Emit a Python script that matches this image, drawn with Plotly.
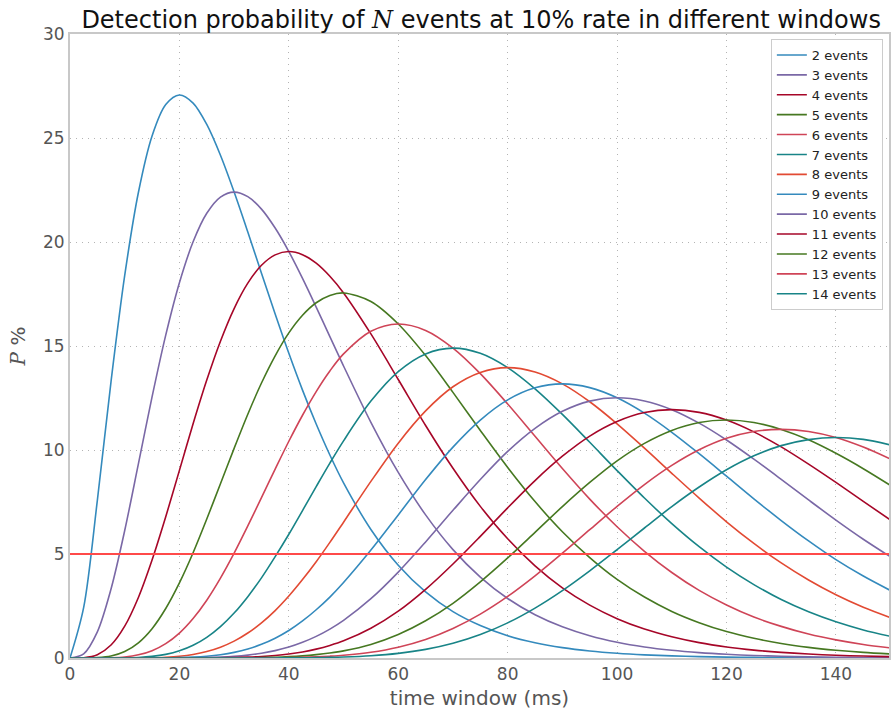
import plotly.graph_objects as go

# time window in ms (finer steps on the steep early part)
t_ms = [0, 2.5, 5, 7.5, 10, 12.5, 15, 17.5, 20, 22.5, 25, 27.5, 30, 32.5, 35, 37.5, 40, 42.5, 45, 47.5, 50,
        55, 60, 65, 70, 75, 80, 85, 90, 95, 100, 105, 110, 115, 120, 125, 130, 135, 140, 145, 150]

# detection probability (%) of exactly N events
p2 = [0, 2.43, 7.58, 13.29, 18.39, 22.38, 25.10, 26.61, 27.07, 26.68, 25.65, 24.17, 22.40, 20.48, 18.50, 16.54,
      14.65, 12.88, 11.25, 9.76, 8.42,
      6.18, 4.46, 3.18, 2.23, 1.56, 1.07, 0.735, 0.500, 0.338, 0.227, 0.152, 0.101, 0.067, 0.044, 0.029,
      0.019, 0.0125, 0.008, 0.0053, 0.0034]
p3 = [0, 0.203, 1.26, 3.32, 6.13, 9.33, 12.55, 15.52, 18.04, 20.01, 21.38, 22.16, 22.40, 22.18, 21.58, 20.67,
      19.54, 18.25, 16.87, 15.45, 14.04,
      11.33, 8.92, 6.88, 5.21, 3.89, 2.86, 2.08, 1.50, 1.07, 0.757, 0.531, 0.371, 0.257, 0.177, 0.121,
      0.083, 0.056, 0.038, 0.026, 0.017]
p4 = [0, 0.0127, 0.158, 0.623, 1.53, 2.91, 4.71, 6.79, 9.02, 11.26, 13.36, 15.23, 16.80, 18.02, 18.88, 19.38,
      19.54, 19.39, 18.98, 18.35, 17.55,
      15.58, 13.39, 11.18, 9.12, 7.29, 5.73, 4.43, 3.37, 2.54, 1.89, 1.39, 1.02, 0.738, 0.531, 0.379,
      0.269, 0.190, 0.133, 0.093, 0.065]
p5 = [0, 0.0006, 0.016, 0.093, 0.31, 0.729, 1.41, 2.38, 3.61, 5.06, 6.68, 8.38, 10.08, 11.72, 13.22, 14.53,
      15.63, 16.48, 17.08, 17.43, 17.55,
      17.14, 16.06, 14.54, 12.77, 10.94, 9.16, 7.52, 6.07, 4.83, 3.78, 2.93, 2.24, 1.70, 1.27, 0.948,
      0.699, 0.512, 0.373, 0.269, 0.194]
p6 = [0, 0, 0.0013, 0.0117, 0.05, 0.152, 0.353, 0.693, 1.20, 1.90, 2.78, 3.84, 5.04, 6.35, 7.71, 9.08,
      10.42, 11.67, 12.81, 13.80, 14.62,
      15.71, 16.06, 15.75, 14.90, 13.67, 12.21, 10.66, 9.11, 7.64, 6.31, 5.13, 4.11, 3.25, 2.55, 1.97,
      1.52, 1.15, 0.870, 0.651, 0.484]
p7 = [0, 0, 0, 0.0013, 0.007, 0.027, 0.076, 0.173, 0.344, 0.611, 0.994, 1.51, 2.16, 2.95, 3.85, 4.87,
      5.95, 7.09, 8.24, 9.37, 10.44,
      12.35, 13.77, 14.62, 14.90, 14.65, 13.96, 12.94, 11.71, 10.37, 9.01, 7.69, 6.46, 5.35, 4.37, 3.53,
      2.81, 2.22, 1.74, 1.35, 1.04]
p8 = [0, 0, 0, 0, 0.001, 0.0042, 0.014, 0.038, 0.086, 0.172, 0.311, 0.519, 0.81, 1.20, 1.69, 2.28,
      2.98, 3.77, 4.63, 5.56, 6.53,
      8.49, 10.33, 11.88, 13.04, 13.73, 13.96, 13.75, 13.18, 12.32, 11.26, 10.09, 8.88, 7.69, 6.55, 5.51,
      4.57, 3.75, 3.04, 2.44, 1.94]
p9 = [0, 0, 0, 0, 0, 0.0006, 0.002, 0.0074, 0.019, 0.043, 0.086, 0.158, 0.27, 0.432, 0.656, 0.950,
      1.32, 1.78, 2.32, 2.93, 3.63,
      5.19, 6.88, 8.58, 10.14, 11.44, 12.41, 12.99, 13.18, 13.00, 12.51, 11.77, 10.85, 9.82, 8.74, 7.65,
      6.61, 5.63, 4.73, 3.94, 3.24]
p10 = [0, 0, 0, 0, 0, 0, 0, 0.0013, 0.004, 0.0097, 0.022, 0.044, 0.081, 0.140, 0.230, 0.356,
       0.529, 0.756, 1.04, 1.39, 1.81,
       2.85, 4.13, 5.58, 7.10, 8.58, 9.93, 11.04, 11.86, 12.35, 12.51, 12.36, 11.94, 11.29, 10.48, 9.56,
       8.59, 7.60, 6.63, 5.71, 4.86]
p11 = [0, 0, 0, 0, 0, 0, 0, 0, 0.001, 0.002, 0.005, 0.011, 0.022, 0.042, 0.073, 0.122,
       0.192, 0.292, 0.426, 0.602, 0.824,
       1.43, 2.25, 3.30, 4.52, 5.85, 7.22, 8.53, 9.70, 10.67, 11.37, 11.80, 11.94, 11.81, 11.44, 10.87,
       10.15, 9.32, 8.44, 7.53, 6.63]
p12 = [0, 0, 0, 0, 0, 0, 0, 0, 0, 0, 0.001, 0.0025, 0.0055, 0.011, 0.021, 0.038,
       0.064, 0.103, 0.160, 0.238, 0.343,
       0.654, 1.13, 1.79, 2.63, 3.66, 4.81, 6.04, 7.28, 8.44, 9.48, 10.32, 10.94, 11.32, 11.44, 11.32,
       10.99, 10.49, 9.84, 9.10, 8.29]
p13 = [0, 0, 0, 0, 0, 0, 0, 0, 0, 0, 0, 0, 0.001, 0.0028, 0.006, 0.011,
       0.020, 0.034, 0.055, 0.087, 0.132,
       0.277, 0.520, 0.893, 1.42, 2.11, 2.96, 3.95, 5.04, 6.17, 7.29, 8.34, 9.26, 10.01, 10.56, 10.89,
       10.99, 10.89, 10.60, 10.14, 9.56]
p14 = [0, 0, 0, 0, 0, 0, 0, 0, 0, 0, 0, 0, 0, 0.0007, 0.0014, 0.0029,
       0.006, 0.010, 0.018, 0.030, 0.047,
       0.109, 0.223, 0.414, 0.709, 1.13, 1.69, 2.40, 3.24, 4.19, 5.21, 6.25, 7.28, 8.22, 9.05, 9.72,
       10.21, 10.50, 10.60, 10.51, 10.24]

event_counts = [2, 3, 4, 5, 6, 7, 8, 9, 10, 11, 12, 13, 14]
series = [p2, p3, p4, p5, p6, p7, p8, p9, p10, p11, p12, p13, p14]
threshold_pct = 5

palette = ["#348ABD", "#7A68A6", "#A60628", "#467821", "#CF4457", "#188487", "#E24A33"]

font_family = "DejaVu Sans"
gray = "#555555"

fig = go.Figure()
for i, (n, vals) in enumerate(zip(event_counts, series)):
    fig.add_trace(go.Scatter(
        x=t_ms, y=vals, mode="lines", name=f"{n} events",
        line=dict(color=palette[i % len(palette)], width=1.6, shape="spline", smoothing=0.9),
    ))

# 5% reference level
fig.add_trace(go.Scatter(
    x=[t_ms[0], t_ms[-1]], y=[threshold_pct, threshold_pct], mode="lines",
    line=dict(color="#ff4a4a", width=2), showlegend=False, hoverinfo="skip",
))

axis_common = dict(
    showgrid=True, gridcolor="#b4b4b4", griddash="1px,5px", gridwidth=1,
    showline=True, linecolor="#c8c8c8", linewidth=2, mirror=True,
    zeroline=False, ticks="",
    tickfont=dict(family=font_family, size=17, color=gray),
)

fig.update_layout(
    width=891, height=711,
    margin=dict(l=70, r=0, t=34, b=53),
    paper_bgcolor="white", plot_bgcolor="white",
    title=dict(
        text="Detection probability of <i><span style='font-family:DejaVu Serif'>N</span></i> events at 10% rate in different windows",
        font=dict(family=font_family, size=24, color="#111111"),
        x=0.54, xanchor="center", y=0.972, yanchor="middle",
    ),
    xaxis=dict(
        range=[0, 149.7], tickvals=[0, 20, 40, 60, 80, 100, 120, 140],
        title=dict(text="time window (ms)", font=dict(family=font_family, size=20, color=gray), standoff=8),
        **axis_common,
    ),
    yaxis=dict(
        range=[0, 30], tickvals=[0, 5, 10, 15, 20, 25, 30],
        title=dict(text="<i><span style='font-family:DejaVu Serif'>P</span></i> %",
                   font=dict(family=font_family, size=20, color=gray), standoff=12),
        **axis_common,
    ),
    legend=dict(
        x=0.9925, xanchor="right", y=0.992, yanchor="top",
        bgcolor="white", bordercolor="#cccccc", borderwidth=1,
        font=dict(family=font_family, size=13, color="#222222"),
        itemwidth=30, tracegroupgap=0,
    ),
    showlegend=True,
)

fig.write_html("out.html")
